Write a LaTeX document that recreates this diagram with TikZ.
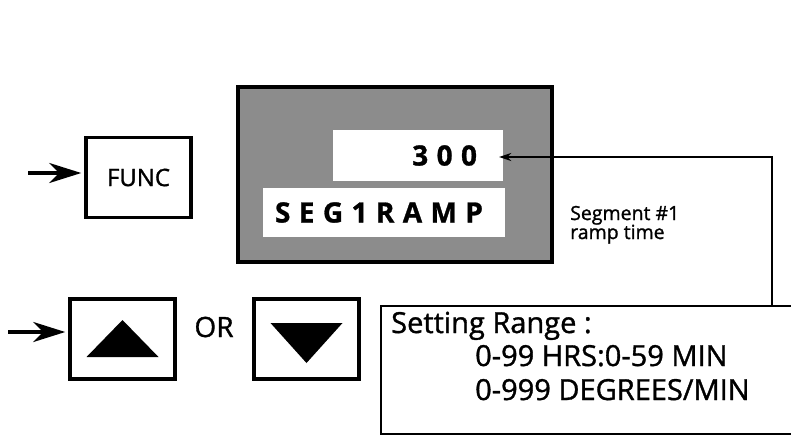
\documentclass[tikz,border=0pt]{standalone}
\usepackage{fontspec}
\setmainfont{Open Sans}
\usetikzlibrary{arrows.meta,positioning,calc}

\tikzset{
  button/.style={draw, line width=3.5pt, minimum width=105pt, minimum height=80pt, inner sep=0pt},
  lcd/.style={fill=white, inner sep=0pt, font=\bfseries\fontsize{28}{28}\selectfont\addfontfeature{LetterSpace=30,FakeBold=1}},
  bigarrow/.style={line width=3.5pt, -{Stealth[length=32pt,width=20pt,inset=10pt]}},
  label/.style={anchor=base west, inner sep=0pt},
}
\newcommand{\heavy}{\addfontfeature{FakeBold=1.2}}

\begin{document}
\begin{tikzpicture}[x=1pt,y=-1pt]
	\useasboundingbox (0,0) rectangle (791,437);

	% display panel
	\node[draw, line width=4pt, fill=black!45, minimum width=314pt, minimum height=175pt] (disp) at (395,174.5) {};
	\node[lcd, minimum width=170pt, minimum height=51pt, text width=118pt, align=right] (val) at (418,155.5) {300};
	\node[lcd, minimum width=242pt, minimum height=49pt, text width=218pt, align=left] (seg) at (384,212.5) {SEG1RAMP};

	% keys
	\node[button, font=\fontsize{24}{24}\selectfont\heavy] (func) at (138.5,177.5) {FUNC};
	\node[button] (up) at (122.5,339) {};
	\node[button] (down) at (306.5,339) {};
	\node[font=\fontsize{28}{28}\selectfont\heavy] (or) at (214,327) {OR};
	\fill ($(up.center)+(0,-19)$) -- ($(up.center)+(36,18)$) -- ($(up.center)+(-36,18)$) -- cycle;
	\fill ($(down.center)+(-36,-16)$) -- ($(down.center)+(36,-16)$) -- ($(down.center)+(0,24)$) -- cycle;

	\coordinate (f0) at (28,173);
	\coordinate (u0) at (8,332);
	\draw[bigarrow, shorten >=3pt] (f0) -- (f0 -| func.west);
	\draw[bigarrow, shorten >=3pt] (u0) -- (u0 -| up.west);

	% setting range
	\node[draw, line width=1.5pt, anchor=north west, minimum width=440pt, minimum height=128pt] (range) at (380,305) {};
	\node[label, font=\fontsize{29}{29}\selectfont\heavy] (rng1) at (391,333) {Setting Range :};
	\node[label, font=\fontsize{29}{29}\selectfont\heavy] (rng2) at (475,366) {0-99 HRS:0-59 MIN};
	\node[label, font=\fontsize{29}{29}\selectfont\heavy] (rng3) at (475,400) {0-999 DEGREES/MIN};

	\node[label, font=\fontsize{19.5}{19.5}\selectfont\heavy] (segtxt) at (570,220) {Segment \#1};
	\node[label, font=\fontsize{19.5}{19.5}\selectfont\heavy] (ramptxt) at (570,239) {ramp time};

	\coordinate (bend) at (772,157);
	\draw[line width=1.5pt, -{Stealth[length=12pt,width=8pt]}, shorten >=-4pt] (range.north -| bend) -- (bend) -- (bend -| val.east);
\end{tikzpicture}
\end{document}
